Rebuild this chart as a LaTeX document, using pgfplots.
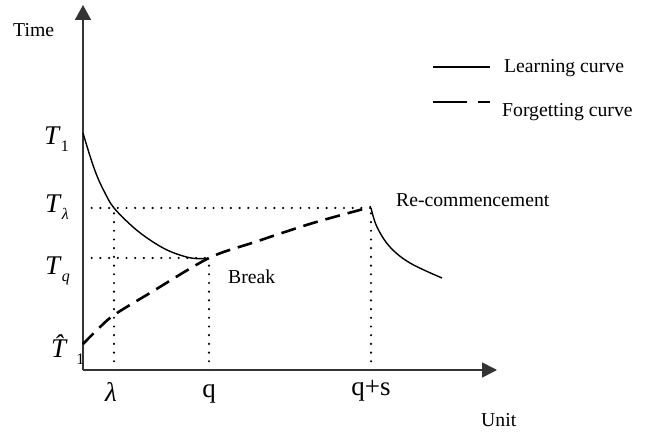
\documentclass[border=0pt]{standalone}
\usepackage{fontspec}
\setmainfont{Liberation Serif}
\usepackage{pgfplots}
\pgfplotsset{compat=1.18}
\usetikzlibrary{arrows.meta}
\newcommand\Tsub[1]{\textit{T}\raisebox{-7pt}{\fontsize{16}{16}\selectfont #1}}
\tikzset{
  guide/.style={black, line width=2.4pt, line cap=round, dash pattern=on 0pt off 8.7pt},
  txt/.style={inner sep=0pt, font=\fontsize{19.7}{20}\selectfont},
  sym/.style={inner sep=0pt, font=\fontsize{27}{27}\selectfont}
}
\begin{document}
\begin{tikzpicture}
\begin{axis}[hide axis, scale only axis, width=656pt, height=433pt,
  xmin=-83, xmax=573, ymin=-63, ymax=370, clip=false]
\coordinate (ll) at (axis cs:-83,-63);
\coordinate (ur) at (axis cs:573,370);
% dotted guide lines
\addplot[guide] coordinates {(0,162) (288,162)};
\addplot[guide] coordinates {(0,112) (126,112)};
\addplot[guide] coordinates {(31,0) (31,162)};
\addplot[guide] coordinates {(126,0) (126,112)};
\addplot[guide] coordinates {(288,0) (288,162)};
% axes
\draw[line width=1.6pt, draw=black!80, -{Triangle[length=15pt,width=15pt]}] (axis cs:0,0) -- (axis cs:414,0);
\draw[line width=1.6pt, draw=black!80, -{Triangle[length=15pt,width=16pt]}] (axis cs:0,0) -- (axis cs:0,365);
% learning curve 1
\addplot[black, line width=1.4pt, smooth, tension=0.6] coordinates {
 (0,237) (7,214) (14,194) (22,177) (31,162) (50,143) (67,130) (84,120) (100,114) (112,111.5) (126,111.5)};
% forgetting curve
\addplot[black, line width=2.6pt, smooth, dash pattern=on 15pt off 8pt] coordinates {
 (0,26) (15,41) (31,55) (67,77) (126,112) (172,128) (230,147) (288,163)};
% learning curve 2
\addplot[black, line width=1.4pt, smooth, tension=0.6] coordinates {
 (288,162) (294,143) (307,123) (327,107) (359,92)};
% legend
\addplot[black, line width=1.4pt] coordinates {(350,303) (407,303)};
\addplot[black, line width=2.6pt, dash pattern=on 34pt off 11pt on 12pt off 20pt] coordinates {(350,268) (407,268)};
\node[txt, anchor=base west] at (axis cs:421,297) {Learning curve};
\node[txt, anchor=base west] at (axis cs:419,253) {Forgetting curve};
\node[txt, anchor=base west] at (axis cs:-70,333) {Time};
\node[txt, anchor=base west] at (axis cs:398,-57) {Unit};
\node[txt, anchor=base west] at (axis cs:145,86) {Break};
\node[txt, anchor=base west] at (axis cs:313,163) {Re-commencement};
% symbol labels
\node[sym, anchor=base west] at (axis cs:-39,225) {\Tsub{1}};
\node[sym, anchor=base west] at (axis cs:-38,157) {\Tsub{\textit{λ}}};
\node[sym, anchor=base west] at (axis cs:-38,95) {\Tsub{\textit{q}}};
\node[sym, anchor=base west] at (axis cs:-32,12) {\textit{\^{T}}\raisebox{-7pt}{\fontsize{16}{16}\selectfont 1}};
\node[sym, anchor=base] at (axis cs:28,-32) {\textit{λ}};
\node[sym, anchor=base] at (axis cs:126,-28) {q};
\node[sym, anchor=base] at (axis cs:288,-26) {q+s};
\end{axis}
\pgfresetboundingbox
\path (ll) rectangle (ur);
\end{tikzpicture}
\end{document}
